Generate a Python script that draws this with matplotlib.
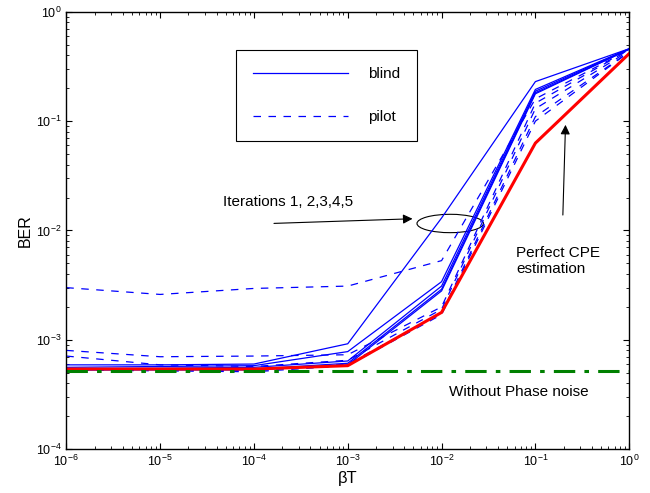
import matplotlib
matplotlib.use("Agg")
import matplotlib.pyplot as plt
from matplotlib.patches import Ellipse
from matplotlib.ticker import LogLocator, NullFormatter

plt.rcParams["font.family"] = ["Liberation Sans", "DejaVu Sans"]
plt.rcParams["mathtext.fontset"] = "custom"
plt.rcParams["mathtext.rm"] = "Liberation Sans"

beta_t = [1e-6, 1e-5, 1e-4, 1e-3, 1e-2, 1e-1, 1.0]

# blind estimation, iterations 1..5
blind_1 = [5.9e-4, 5.9e-4, 6.0e-4, 9.2e-4, 1.3e-2, 0.23, 0.46]
blind_2 = [5.6e-4, 5.7e-4, 5.8e-4, 7.8e-4, 3.4e-3, 0.195, 0.46]
blind_3 = [5.4e-4, 5.5e-4, 5.6e-4, 6.4e-4, 3.1e-3, 0.188, 0.458]
blind_4 = [5.3e-4, 5.4e-4, 5.4e-4, 6.1e-4, 2.9e-3, 0.182, 0.455]
blind_5 = [5.3e-4, 5.3e-4, 5.3e-4, 5.9e-4, 2.8e-3, 0.178, 0.455]

# pilot-aided estimation, iterations 1..5
pilot_1 = [3.0e-3, 2.6e-3, 2.95e-3, 3.1e-3, 5.3e-3, 0.16, 0.45]
pilot_2 = [8.0e-4, 7.0e-4, 7.1e-4, 7.3e-4, 2.0e-3, 0.146, 0.45]
pilot_3 = [7.1e-4, 5.9e-4, 5.7e-4, 6.5e-4, 1.9e-3, 0.13, 0.44]
pilot_4 = [5.4e-4, 5.3e-4, 5.2e-4, 6.0e-4, 1.75e-3, 0.11, 0.43]
pilot_5 = [5.3e-4, 5.2e-4, 5.1e-4, 5.8e-4, 1.7e-3, 0.10, 0.43]

perfect_cpe = [5.4e-4, 5.4e-4, 5.4e-4, 5.8e-4, 1.78e-3, 0.063, 0.415]
no_phase_noise = [5.2e-4] * len(beta_t)

blind_curves = [blind_1, blind_2, blind_3, blind_4, blind_5]
pilot_curves = [pilot_1, pilot_2, pilot_3, pilot_4, pilot_5]

fig = plt.figure(figsize=(6.5, 4.93), dpi=100)
ax = fig.add_axes([0.102, 0.089, 0.866, 0.887])

for i, curve in enumerate(blind_curves):
    ax.plot(beta_t, curve, color="blue", lw=0.9,
            label="blind" if i == 0 else None)
for i, curve in enumerate(pilot_curves):
    ax.plot(beta_t, curve, color="blue", lw=0.9, ls=(0, (6, 6)),
            label="pilot" if i == 0 else None)

ax.plot(beta_t, perfect_cpe, color="red", lw=2.2)
ax.plot(beta_t, no_phase_noise, color=(0, 0.5, 0), lw=2.2, ls=(0, (7, 3, 1.5, 3)))

ax.set_xscale("log")
ax.set_yscale("log")
ax.set_xlim(1e-6, 1)
ax.set_ylim(1e-4, 1)

ax.xaxis.set_major_locator(LogLocator(base=10, numticks=10))
ax.yaxis.set_major_locator(LogLocator(base=10, numticks=10))
ax.xaxis.set_minor_locator(LogLocator(base=10, subs=range(2, 10), numticks=20))
ax.yaxis.set_minor_locator(LogLocator(base=10, subs=range(2, 10), numticks=20))
ax.xaxis.set_minor_formatter(NullFormatter())
ax.yaxis.set_minor_formatter(NullFormatter())
ax.tick_params(which="both", direction="in", top=True, right=True, labelsize=9)
ax.tick_params(which="major", length=4)
ax.tick_params(which="minor", length=2)
for side in ax.spines.values():
    side.set_linewidth(1.0)

ax.set_xlabel("βT", fontsize=12, labelpad=1)
ax.set_ylabel("BER", fontsize=11.5, labelpad=2)

leg = ax.legend(loc="upper left", bbox_to_anchor=(0.302, 0.912), fontsize=11,
                handlelength=6.2, handletextpad=1.3, labelspacing=1.9,
                borderpad=1.1, borderaxespad=0, fancybox=False, framealpha=1,
                edgecolor="black")
leg.get_frame().set_linewidth(0.8)

# annotations
ax.text(0.279, 0.565, "Iterations 1, 2,3,4,5", transform=ax.transAxes,
        fontsize=11, va="center")
ax.annotate("", xy=(0.620, 0.527), xytext=(0.364, 0.516),
            xycoords="axes fraction", textcoords="axes fraction",
            arrowprops=dict(arrowstyle="-|>", color="black", lw=0.8,
                            mutation_scale=14))
ax.add_patch(Ellipse((0.682, 0.516), 0.118, 0.042, transform=ax.transAxes,
                     fill=False, edgecolor="black", lw=0.8))

ax.text(0.799, 0.43, "Perfect CPE\nestimation", transform=ax.transAxes,
        fontsize=11, va="center", linespacing=1.15)
ax.annotate("", xy=(0.887, 0.748), xytext=(0.882, 0.529),
            xycoords="axes fraction", textcoords="axes fraction",
            arrowprops=dict(arrowstyle="-|>", color="black", lw=0.8,
                            mutation_scale=14))

ax.text(0.68, 0.13, "Without Phase noise", transform=ax.transAxes,
        fontsize=11, va="center")

fig.savefig("out.png", dpi=100)
